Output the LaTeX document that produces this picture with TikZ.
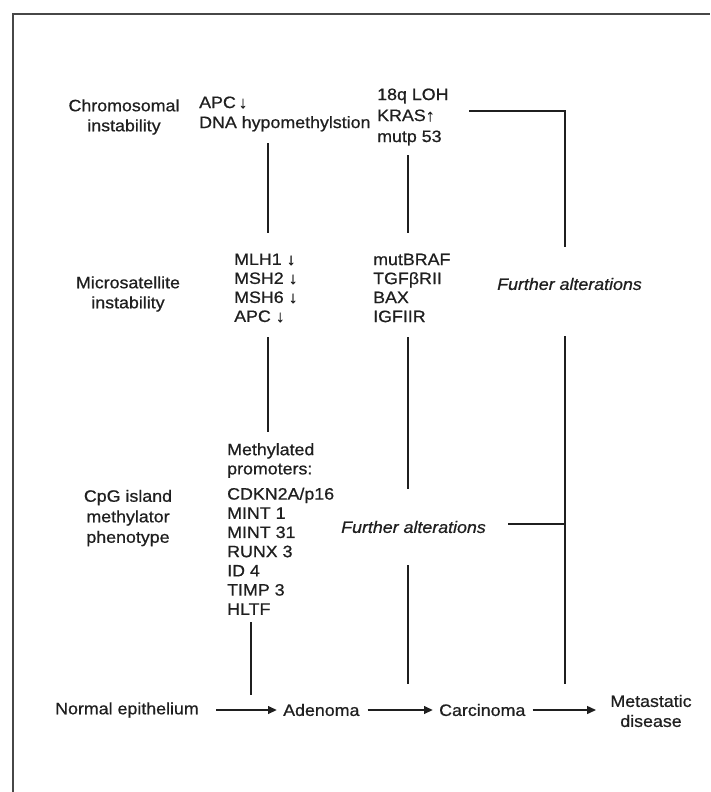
\documentclass[tikz,border=0pt]{standalone}
\usepackage{fontspec}
\setmainfont{Liberation Sans}[FakeStretch=1.08,FakeBold=0.7]
\usetikzlibrary{arrows.meta}
\begin{document}
\begin{tikzpicture}[x=1pt,y=-1pt,
  txt/.style={inner sep=0pt, text=black!88, font=\fontsize{16.5}{20}\selectfont},
  lab/.style={txt, align=center, anchor=center},
  lst/.style={txt, align=left, anchor=west},
  fa/.style={txt, anchor=west, font=\fontsize{16.5}{20}\selectfont\itshape},
  conn/.style={line width=2.2pt, black!88},
  arr/.style={line width=2.2pt, black!88, -{Triangle[length=9pt,width=7.5pt]}},
  frame/.style={line width=2.6pt, black!72}]
\useasboundingbox (0,0) rectangle (710,792);
\draw[frame] (13,792) -- (13,14) -- (710,14);

% row labels
\node[lab] (chrom) at (124,117) {Chromosomal\\instability};
\node[lab] (msi) at (128,294) {Microsatellite\\instability};
\node[lab, font=\fontsize{16.5}{20.5}\selectfont] (cimp) at (128,518) {CpG island\\methylator\\phenotype};

% chromosomal instability
\node[lst] (cinA) at (199,114) {APC\,↓\\DNA hypomethylstion};
\node[lst, font=\fontsize{16.5}{21}\selectfont] (cinB) at (377,117) {18q LOH\\KRAS↑\\mutp 53};

% microsatellite instability
\node[lst, font=\fontsize{16.5}{19}\selectfont] (msiA) at (234,288) {MLH1 ↓\\MSH2 ↓\\MSH6 ↓\\APC ↓};
\node[lst, font=\fontsize{16.5}{19}\selectfont] (msiB) at (373,288) {mutBRAF\\TGFβRII\\BAX\\IGFIIR};

% CIMP
\node[lst, font=\fontsize{16.5}{19.2}\selectfont] (meth) at (227,529) {Methylated\\promoters:\\[6pt]CDKN2A/p16\\MINT 1\\MINT 31\\RUNX 3\\ID 4\\TIMP 3\\HLTF};

% further alterations
\node[fa] (fa1) at (497,284) {Further alterations};
\node[fa] (fa2) at (341,527) {Further alterations};

% bottom row
\node[lst] (normal) at (55,710) {Normal epithelium};
\node[lst] (aden) at (283,710) {Adenoma};
\node[lst] (carc) at (439,710) {Carcinoma};
\node[lab] (meta) at (651,711) {Metastatic\\disease};

\draw[arr, shorten <=17pt, shorten >=6pt] (normal.east) -- (normal.east -| aden.west);
\draw[arr, shorten <=8pt, shorten >=6pt] (aden.east) -- (aden.east -| carc.west);
\draw[arr, shorten <=7pt, shorten >=14pt] (carc.east) -- (carc.east -| meta.west);

% connector end points
\coordinate (a1) at (268,143); \coordinate (a2) at (268,233);
\coordinate (b1) at (408,155); \coordinate (b2) at (408,233);
\coordinate (c1) at (268,337); \coordinate (c2) at (268,432);
\coordinate (d1) at (408,337); \coordinate (d2) at (408,489);
\coordinate (e1) at (251,622); \coordinate (e2) at (251,695);
\coordinate (f1) at (408,565); \coordinate (f2) at (408,684);
\coordinate (g1) at (469,111); \coordinate (g2) at (565,111); \coordinate (g3) at (565,247);
\coordinate (h1) at (565,336); \coordinate (h2) at (565,684);
\coordinate (k1) at (508,524); \coordinate (k2) at (565,524);

\draw[conn] (a1) -- (a2);
\draw[conn] (b1) -- (b2);
\draw[conn] (c1) -- (c2);
\draw[conn] (d1) -- (d2);
\draw[conn] (e1) -- (e2);
\draw[conn] (f1) -- (f2);
\draw[conn] (g1) -- (g2) -- (g3);
\draw[conn] (h1) -- (h2);
\draw[conn] (k1) -- (k2);
\end{tikzpicture}
\end{document}
